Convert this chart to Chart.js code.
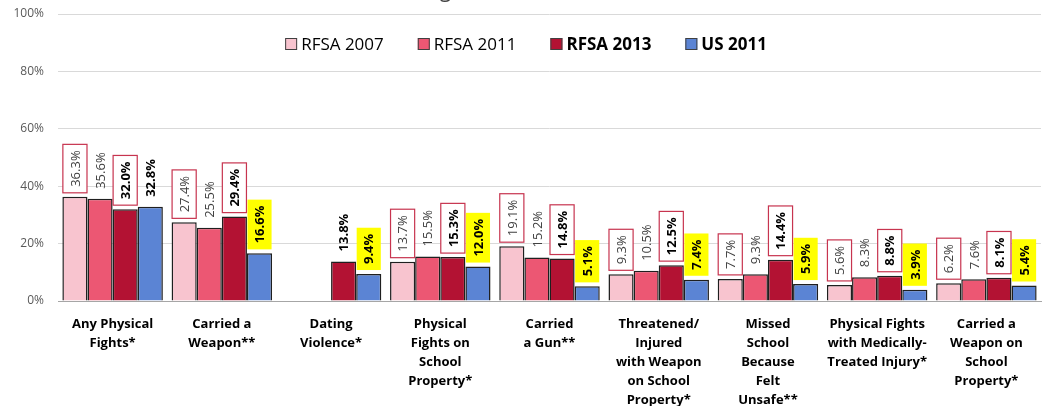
<!DOCTYPE html>
<html>
<head>
<meta charset="utf-8">
<script src="https://cdn.jsdelivr.net/npm/chart.js@4"></script>
<style>
  body { margin: 0; background: #fff; }
  #wrap { width: 1045px; height: 406px; }
</style>
</head>
<body>
<div id="wrap"><canvas id="myChart"></canvas></div>
<script>
const categories = [
  ["Any Physical", "Fights*"],
  ["Carried a", "Weapon**"],
  ["Dating", "Violence*"],
  ["Physical", "Fights on", "School", "Property*"],
  ["Carried", "a Gun**"],
  ["Threatened/", "Injured", "with Weapon", "on School", "Property*"],
  ["Missed", "School", "Because", "Felt", "Unsafe**"],
  ["Physical Fights", "with Medically-", "Treated Injury*"],
  ["Carried a", "Weapon on", "School", "Property*"],
];

const rfsa2007 = [36.3, 27.4, null, 13.7, 19.1, 9.3, 7.7, 5.6, 6.2];
const rfsa2011 = [35.6, 25.5, null, 15.5, 15.2, 10.5, 9.3, 8.3, 7.6];
const rfsa2013 = [32.0, 29.4, 13.8, 15.3, 14.8, 12.5, 14.4, 8.8, 8.1];
const us2011 = [32.8, 16.6, 9.4, 12.0, 5.1, 7.4, 5.9, 3.9, 5.4];

const yTicks = [0, 20, 40, 60, 80, 100];
const chartTitle = "(High School Students)";

const FONT = "'Open Sans', sans-serif";
const BOX_RED = "#c7344f";

// how each series' value labels look; noBox = category indexes drawn without a box
const labelStyles = [
  { weight: "normal", color: "#404040", box: "outline", noBox: [] },
  { weight: "normal", color: "#404040", box: null, noBox: [] },
  { weight: "bold", color: "#000", box: "outline", noBox: [2] },
  { weight: "bold", color: "#000", box: "yellow", noBox: [0] },
];

const valueLabels = {
  id: "valueLabels",
  afterDatasetsDraw(chart) {
    const ctx = chart.ctx;
    chart.data.datasets.forEach((ds, di) => {
      const meta = chart.getDatasetMeta(di);
      const st = labelStyles[di];
      meta.data.forEach((bar, i) => {
        const v = ds.data[i];
        if (v === null || v === undefined) return;
        const txt = v.toFixed(1) + "%";
        const box = st.noBox.includes(i) ? null : st.box;
        ctx.save();
        ctx.font = st.weight + " 13px " + FONT;
        const w = ctx.measureText(txt).width;
        const bw = bar.width - 1;
        const bottom = bar.y - 4;
        const h = w + 12;
        if (box === "yellow") {
          ctx.fillStyle = "#ffff00";
          ctx.fillRect(bar.x - bw / 2, bottom - h, bw, h);
        } else if (box === "outline") {
          ctx.fillStyle = "#fff";
          ctx.fillRect(bar.x - bw / 2, bottom - h, bw, h);
          ctx.strokeStyle = BOX_RED;
          ctx.lineWidth = 1.2;
          ctx.strokeRect(bar.x - bw / 2, bottom - h, bw, h);
        }
        ctx.translate(bar.x, bottom - h / 2);
        ctx.rotate(-Math.PI / 2);
        ctx.fillStyle = st.color;
        ctx.textAlign = "center";
        ctx.textBaseline = "middle";
        ctx.fillText(txt, 0, 1);
        ctx.restore();
      });
    });
  },
};

const legendAndTitle = {
  id: "legendAndTitle",
  afterDraw(chart) {
    const ctx = chart.ctx;
    ctx.save();
    // title, mostly cut off at the top edge
    ctx.font = "21px " + FONT;
    ctx.fillStyle = "#404040";
    ctx.textAlign = "center";
    ctx.textBaseline = "alphabetic";
    ctx.fillText(chartTitle, 523, -3);

    // legend
    const items = chart.data.datasets.map((ds, i) => ({
      text: ds.label,
      color: ds.backgroundColor,
      bold: i >= 2,
    }));
    const box = 12, gapText = 4, gapItem = 34;
    let total = 0;
    items.forEach((it, i) => {
      ctx.font = (it.bold ? "bold " : "") + "17px " + FONT;
      it.w = ctx.measureText(it.text).width;
      total += box + gapText + it.w + (i < items.length - 1 ? gapItem : 0);
    });
    let x = 526 - total / 2;
    const cy = 44;
    items.forEach((it) => {
      ctx.fillStyle = it.color;
      ctx.fillRect(x, cy - box / 2, box, box);
      ctx.strokeStyle = "#404040";
      ctx.lineWidth = 1;
      ctx.strokeRect(x + 0.5, cy - box / 2 + 0.5, box - 1, box - 1);
      ctx.font = (it.bold ? "bold " : "") + "17px " + FONT;
      ctx.fillStyle = "#000";
      ctx.textAlign = "left";
      ctx.textBaseline = "middle";
      ctx.fillText(it.text, x + box + gapText, cy + 1);
      x += box + gapText + it.w + gapItem;
    });
    ctx.restore();
  },
};

const ctx = document.getElementById("myChart");

new Chart(ctx, {
  type: "bar",
  data: {
    labels: categories,
    datasets: [
      { label: "RFSA 2007", data: rfsa2007, backgroundColor: "#f8c4cf" },
      { label: "RFSA 2011", data: rfsa2011, backgroundColor: "#ec5773" },
      { label: "RFSA 2013", data: rfsa2013, backgroundColor: "#b31233" },
      { label: "US 2011", data: us2011, backgroundColor: "#5b84d4" },
    ].map((d) => ({ ...d, borderColor: "#1f1f1f", borderWidth: 1.5, categoryPercentage: 0.92, barPercentage: 1 })),
  },
  options: {
    responsive: true,
    maintainAspectRatio: false,
    animation: false,
    layout: { padding: { top: 14, right: 4, left: 0, bottom: 0 } },
    plugins: {
      legend: { display: false },
      tooltip: { enabled: false },
    },
    scales: {
      x: {
        grid: { display: false },
        border: { color: "#a6a6a6", width: 1 },
        ticks: {
          color: "#000",
          font: { family: FONT, size: 13, weight: "bold", lineHeight: 1.45 },
          padding: 6,
          maxRotation: 0,
          autoSkip: false,
        },
        afterFit(scale) { scale.height = 105; },
      },
      y: {
        min: 0,
        max: 100,
        afterBuildTicks(scale) { scale.ticks = yTicks.map((v) => ({ value: v })); },
        grid: { color: "#d9d9d9", drawTicks: false },
        border: { display: false },
        ticks: {
          color: "#595959",
          font: { family: FONT, size: 12 },
          padding: 14,
          callback: (v) => v + "%",
        },
        afterFit(scale) {
          scale.width = 58;
          scale.paddingTop = 0;
          scale.paddingBottom = 0;
        },
      },
    },
  },
  plugins: [valueLabels, legendAndTitle],
});
</script>
</body>
</html>
